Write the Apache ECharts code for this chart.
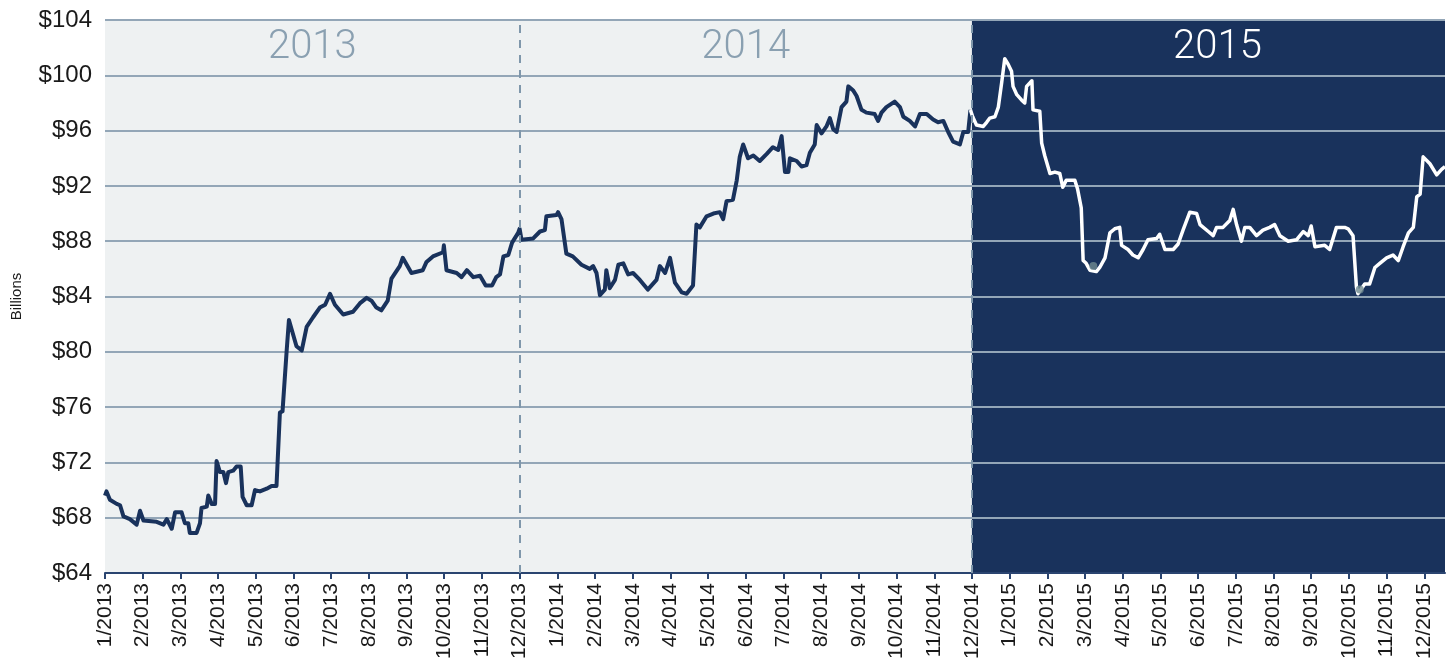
<!DOCTYPE html>
<html>
<head>
<meta charset="utf-8">
<script src="https://cdn.jsdelivr.net/npm/echarts@6/dist/echarts.min.js"></script>
<style>
  html, body { margin: 0; padding: 0; background: #ffffff; }
  #chart { width: 1450px; height: 665px; }
</style>
</head>
<body>
<div id="chart"></div>
<script>
// Tick labels for the month axis (index = months since Jan 2013)
const monthLabels = [
  '1/2013','2/2013','3/2013','4/2013','5/2013','6/2013','7/2013','8/2013','9/2013','10/2013','11/2013','12/2013',
  '1/2014','2/2014','3/2014','4/2014','5/2014','6/2014','7/2014','8/2014','9/2014','10/2014','11/2014','12/2014',
  '1/2015','2/2015','3/2015','4/2015','5/2015','6/2015','7/2015','8/2015','9/2015','10/2015','11/2015','12/2015'
];
const yearLabels = ['2013', '2014', '2015'];
const yearBounds = [0, 11, 23];   // month index where each year's band starts
const axisEnd = 35.55;            // last data month

// [months since Jan 2013, $ billions]
const pts2013 = [
  [0,69.6],[0.04,69.9],[0.13,69.3],[0.31,69.0],[0.4,68.9],[0.49,68.1],[0.66,67.9],[0.84,67.5],[0.93,68.5],[1.02,67.8],
  [1.37,67.7],[1.55,67.5],[1.64,67.9],[1.77,67.2],[1.86,68.4],[2.03,68.4],[2.12,67.6],[2.21,67.6],[2.25,66.9],[2.43,66.9],
  [2.52,67.6],[2.56,68.7],[2.7,68.8],[2.74,69.6],[2.83,69.0],[2.92,69.0],[2.96,72.1],[3.05,71.3],[3.14,71.3],[3.21,70.5],
  [3.27,71.3],[3.4,71.4],[3.49,71.7],[3.6,71.7],[3.65,69.5],[3.76,68.9],[3.89,68.9],[3.98,70.0],[4.11,69.9],[4.29,70.1],
  [4.42,70.3],[4.55,70.3],[4.6,70.4],[4.64,75.6],[4.71,75.7],[4.82,80.1],[4.88,82.3],[4.93,82.2],[5.08,80.4],[5.22,80.1],
  [5.35,81.8],[5.52,82.5],[5.7,83.2],[5.84,83.4],[5.97,84.2],[6.1,83.4],[6.32,82.7],[6.58,82.9],[6.76,83.5],[6.94,83.9],
  [7.07,83.7],[7.2,83.2],[7.33,83.0],[7.5,83.7],[7.6,85.3],[7.82,86.2],[7.9,86.8],[8.13,85.7],[8.43,85.9],[8.53,86.5],
  [8.7,86.9],[8.97,87.2],[8.99,87.7],[9.06,85.9],[9.33,85.7],[9.46,85.4],[9.6,85.9],[9.77,85.4],[9.95,85.5],[10.1,84.8],
  [10.27,84.8],[10.38,85.4],[10.48,85.6],[10.57,86.9],[10.7,87.0],[10.8,87.9],[10.96,88.6],[11.0,88.9]
];
const pts2014 = [
  [11.05,88.1],[11.36,88.2],[11.54,88.7],[11.67,88.8],[11.71,89.8],[11.98,89.9],[12.02,90.1],[12.11,89.6],[12.24,87.1],[12.41,86.9],
  [12.64,86.3],[12.86,86.0],[12.95,86.2],[13.04,85.7],[13.13,84.1],[13.26,84.5],[13.3,85.9],[13.39,84.6],[13.53,85.2],[13.62,86.3],
  [13.75,86.4],[13.88,85.6],[14.01,85.7],[14.19,85.2],[14.4,84.5],[14.63,85.2],[14.72,86.2],[14.86,85.7],[14.99,86.8],[15.12,85.0],
  [15.3,84.3],[15.43,84.2],[15.6,84.8],[15.69,89.2],[15.78,89.0],[15.96,89.8],[16.14,90.0],[16.31,90.1],[16.4,89.6],[16.49,90.9],
  [16.66,91.0],[16.76,92.4],[16.84,94.1],[16.93,95.0],[17.06,94.0],[17.2,94.2],[17.37,93.8],[17.55,94.3],[17.72,94.8],[17.86,94.6],
  [17.95,95.6],[18.04,93.0],[18.13,93.0],[18.17,94.0],[18.35,93.8],[18.48,93.4],[18.61,93.5],[18.7,94.4],[18.83,95.0],[18.88,96.4],
  [19.01,95.8],[19.14,96.3],[19.23,96.9],[19.32,96.1],[19.41,95.9],[19.54,97.7],[19.67,98.1],[19.72,99.2],[19.85,98.9],[19.94,98.5],
  [20.07,97.5],[20.2,97.3],[20.42,97.2],[20.51,96.7],[20.6,97.3],[20.73,97.7],[20.95,98.1],[21.09,97.7],[21.18,97.0],[21.35,96.7],
  [21.49,96.3],[21.62,97.2],[21.8,97.2],[21.97,96.8],[22.1,96.6],[22.24,96.7],[22.37,95.9],[22.5,95.2],[22.68,95.0],[22.77,95.9],
  [22.9,95.9],[22.96,97.5]
];
const pts2015 = [
  [23.02,97.0],[23.12,96.4],[23.3,96.3],[23.39,96.6],[23.47,96.9],[23.61,97.0],[23.7,97.7],[23.79,99.5],[23.87,101.2],[23.96,100.8],
  [24.05,100.3],[24.09,99.2],[24.19,98.6],[24.32,98.2],[24.4,98.0],[24.45,99.2],[24.59,99.6],[24.62,97.5],[24.8,97.4],[24.85,95.1],
  [24.93,94.2],[25.07,92.9],[25.2,93.0],[25.33,92.9],[25.41,91.9],[25.5,92.4],[25.73,92.4],[25.8,91.8],[25.9,90.4],[25.95,86.6],
  [26.03,86.4],[26.13,85.9],[26.3,85.8],[26.39,86.1],[26.53,86.8],[26.66,88.6],[26.79,88.9],[26.92,89.0],[26.97,87.7],[27.14,87.4],
  [27.27,87.0],[27.41,86.8],[27.54,87.4],[27.67,88.1],[27.9,88.2],[27.98,88.5],[28.12,87.4],[28.34,87.4],[28.47,87.8],[28.6,88.8],
  [28.78,90.1],[28.96,90.0],[29.05,89.2],[29.27,88.7],[29.4,88.4],[29.49,89.0],[29.66,89.0],[29.84,89.5],[29.93,90.3],[30.02,89.2],
  [30.15,88.0],[30.24,89.0],[30.37,89.0],[30.55,88.4],[30.72,88.8],[30.9,89.0],[31.03,89.2],[31.17,88.4],[31.39,88.0],[31.61,88.1],
  [31.79,88.7],[31.92,88.4],[32.0,89.1],[32.1,87.6],[32.36,87.7],[32.49,87.4],[32.67,89.0],[32.89,89.0],[32.98,88.9],[33.11,88.4],
  [33.2,84.7],[33.24,84.2],[33.42,84.9],[33.55,84.9],[33.69,86.1],[33.82,86.4],[34.0,86.8],[34.17,87.0],[34.31,86.6],[34.44,87.6],
  [34.58,88.6],[34.71,89.0],[34.8,91.2],[34.89,91.4],[34.97,94.1],[35.15,93.6],[35.33,92.8],[35.46,93.2],[35.55,93.4]
];
const markerPts = [[26.22,86.2],[33.29,84.5]];

const NAVY = '#19325c';
const LIGHT_BG = '#eef1f2';
const GRID = '#93a6b7';
const YEAR_GRAY = '#8aa0b1';
const FONT = '"Liberation Sans", Arial, sans-serif';

const chart = echarts.init(document.getElementById('chart'), null, { renderer: 'canvas' });
const darkPts = pts2013.concat(pts2014);
const whitePts = [pts2014[pts2014.length - 1]].concat(pts2015);
const monthTicks = monthLabels.map((_, i) => i);

const yearLabelStyle = (color, dx) => ({
  show: true, position: 'insideTop', distance: 8, offset: [dx, 0],
  formatter: '{b}', color: color, fontSize: 40, fontWeight: 300,
  fontFamily: 'Roboto, "Liberation Sans", sans-serif'
});

chart.setOption({
  animation: false,
  backgroundColor: '#ffffff',
  grid: {
    left: 105, right: 5, top: 20, bottom: 92, show: true, backgroundColor: LIGHT_BG, borderWidth: 0, z: 0,
    outerBoundsMode: 'none', containLabel: false
  },
  xAxis: {
    type: 'value', min: 0, max: axisEnd, z: 2,
    axisLine: { show: true, onZero: false, lineStyle: { color: '#2a4470', width: 2 } },
    axisTick: { show: true, length: 6, customValues: monthTicks, lineStyle: { color: '#2a4470', width: 2 } },
    axisLabel: {
      customValues: monthTicks, rotate: 90, margin: 10, fontSize: 21, color: '#1a1a1a',
      fontFamily: FONT,
      formatter: v => monthLabels[Math.round(v)] || ''
    },
    splitLine: { show: false }
  },
  yAxis: {
    type: 'value', min: 64, max: 104, interval: 4, z: 2,
    name: 'Billions', nameLocation: 'middle', nameGap: 81,
    nameTextStyle: { fontSize: 15, color: '#1a1a1a', fontFamily: FONT },
    axisLine: { show: false }, axisTick: { show: false },
    axisLabel: { fontSize: 24, color: '#1a1a1a', margin: 13, fontFamily: FONT, formatter: v => '$' + v },
    splitLine: { show: true, lineStyle: { color: GRID, width: 2 } }
  },
  series: [
    {
      type: 'line', data: [[0, null]], z: 1, silent: true, showSymbol: false,
      markArea: {
        silent: true,
        data: [
          [ { name: yearLabels[0], xAxis: yearBounds[0], itemStyle: { color: 'rgba(0,0,0,0)' }, label: yearLabelStyle(YEAR_GRAY, 0) }, { xAxis: yearBounds[1] } ],
          [ { name: yearLabels[1], xAxis: yearBounds[1], itemStyle: { color: 'rgba(0,0,0,0)' }, label: yearLabelStyle(YEAR_GRAY, 0) }, { xAxis: yearBounds[2] } ],
          [ { name: yearLabels[2], xAxis: yearBounds[2], itemStyle: { color: NAVY }, label: yearLabelStyle('#ffffff', 9) }, { xAxis: axisEnd } ]
        ]
      },
      markLine: {
        silent: true, symbol: ['none', 'none'], label: { show: false },
        lineStyle: { color: '#7f97ab', type: [8, 7], width: 2 },
        data: [ { xAxis: yearBounds[1] }, { xAxis: yearBounds[2] } ]
      }
    },
    {
      type: 'line', data: darkPts, z: 3, showSymbol: false, smooth: false,
      lineStyle: { width: 4, color: NAVY, join: 'round' }
    },
    {
      type: 'line', data: whitePts, z: 3, showSymbol: false, smooth: false,
      lineStyle: { width: 3.5, color: '#ffffff', join: 'round' }
    },
    {
      type: 'scatter', data: markerPts, z: 4, symbolSize: 8,
      itemStyle: { color: '#6f8a90' }
    }
  ]
});
</script>
</body>
</html>
